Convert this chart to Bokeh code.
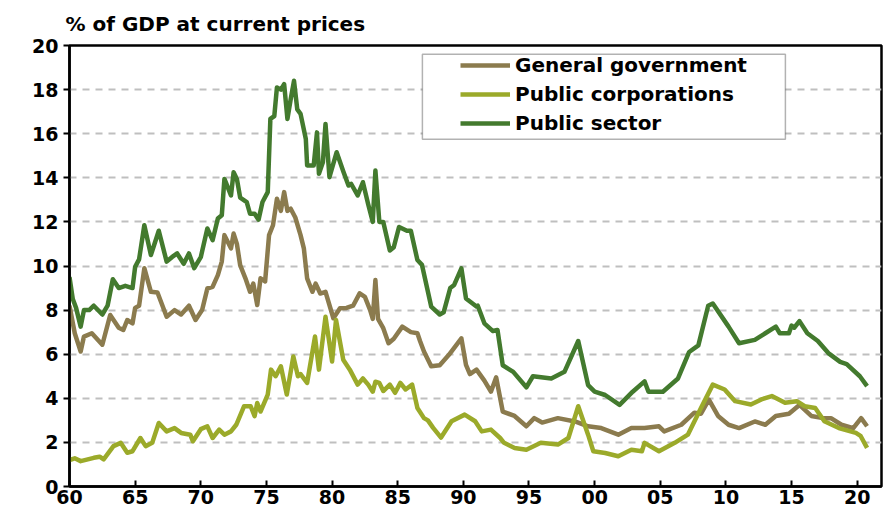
from bokeh.plotting import figure
from bokeh.models import (Range1d, FixedTicker, Legend, LegendItem, BoxAnnotation,
                          Title)
from bokeh.embed import file_html
from bokeh.resources import INLINE

# ---------------- data ----------------
gg_year = [1960.0, 1960.4, 1960.85, 1961.1, 1961.7, 1962.5, 1963.1, 1963.75, 1964.1, 1964.4,
           1964.8, 1965.0, 1965.3, 1965.7, 1966.2, 1966.7, 1967.4, 1968.0, 1968.5, 1969.1,
           1969.6, 1970.1, 1970.5, 1970.9, 1971.3, 1971.6, 1971.8, 1972.3, 1972.5, 1972.75,
           1973.0, 1973.4, 1973.75, 1974.0, 1974.3, 1974.55, 1974.9, 1975.2, 1975.5, 1975.8,
           1976.1, 1976.35, 1976.6, 1976.85, 1977.2, 1977.6, 1977.85, 1978.1, 1978.5, 1978.75,
           1979.1, 1979.5, 1980.1, 1980.6, 1981.1, 1981.6, 1982.1, 1982.5, 1982.9, 1983.1,
           1983.3, 1983.5, 1983.9, 1984.3, 1984.7, 1985.35, 1986.0, 1986.5, 1986.7, 1987.0,
           1987.55, 1988.2, 1988.9, 1989.85, 1990.2, 1990.5, 1991.0, 1991.6, 1992.1, 1992.5,
           1993.0, 1993.9, 1994.8, 1995.4, 1996.0, 1997.2, 1998.5, 1999.5, 2000.5, 2001.8,
           2002.8, 2003.8, 2004.9, 2005.3, 2006.6, 2007.6, 2008.1, 2008.7, 2009.4, 2010.2,
           2011.0, 2012.2, 2013.0, 2013.8, 2014.8, 2015.6, 2016.5, 2017.4, 2018.0, 2018.8,
           2019.7, 2020.3, 2020.75]
gg_val = [8.2, 6.95, 6.12, 6.8, 6.95, 6.43, 7.78, 7.2, 7.1, 7.55,
          7.4, 8.1, 8.2, 9.9, 8.83, 8.8, 7.7, 8.0, 7.8, 8.2,
          7.55, 8.0, 8.98, 9.05, 9.59, 10.2, 11.4, 10.8, 11.47, 11.0,
          10.04, 9.44, 8.83, 9.2, 8.23, 9.44, 9.3, 11.4, 11.85, 13.05,
          12.5, 13.35, 12.5, 12.6, 12.2, 11.4, 10.8, 9.44, 8.83, 9.2,
          8.75, 8.83, 7.63, 8.08, 8.1, 8.2, 8.76, 8.6, 8.0, 7.6,
          9.36, 7.6, 7.18, 6.5, 6.7, 7.25, 7.0, 6.95, 6.6, 6.12,
          5.45, 5.5, 5.97, 6.72, 5.52, 5.1, 5.3, 4.8, 4.3, 4.95,
          3.4, 3.2, 2.73, 3.1, 2.9, 3.1, 2.95, 2.73, 2.65, 2.35,
          2.65, 2.65, 2.73, 2.5, 2.8, 3.35, 3.3, 3.94, 3.2, 2.8,
          2.65, 2.95, 2.8, 3.2, 3.3, 3.7, 3.2, 3.1, 3.1, 2.8,
          2.65, 3.1, 2.73]

pc_year = [1960.0, 1960.4, 1960.85, 1961.85, 1962.3, 1962.6, 1963.35, 1963.9, 1964.4, 1964.8,
           1965.4, 1965.8, 1966.3, 1966.8, 1967.4, 1968.0, 1968.5, 1969.2, 1969.4, 1970.0,
           1970.5, 1970.9, 1971.4, 1971.8, 1972.3, 1972.7, 1973.3, 1973.8, 1974.1, 1974.3,
           1974.55, 1975.1, 1975.35, 1975.7, 1976.1, 1976.55, 1977.05, 1977.4, 1977.6, 1978.1,
           1978.7, 1979.0, 1979.5, 1980.0, 1980.3, 1980.85, 1981.35, 1981.95, 1982.35, 1982.75,
           1983.1, 1983.3, 1983.6, 1983.9, 1984.4, 1984.8, 1985.2, 1985.6, 1986.1, 1986.5,
           1987.0, 1987.3, 1987.7, 1988.3, 1989.1, 1990.1, 1990.9, 1991.4, 1992.1, 1992.8,
           1993.1, 1993.9, 1994.8, 1995.9, 1997.2, 1998.0, 1998.75, 1999.5, 1999.9, 2000.8,
           2001.8, 2002.8, 2003.6, 2003.8, 2004.9, 2006.1, 2007.1, 2008.1, 2009.0, 2009.9,
           2010.7, 2011.9, 2012.7, 2013.5, 2014.5, 2015.4, 2016.0, 2016.8, 2017.5, 2018.6,
           2019.9, 2020.25, 2020.75]
pc_val = [1.2, 1.28, 1.15, 1.3, 1.35, 1.23, 1.83, 1.98, 1.53, 1.6,
          2.2, 1.83, 1.98, 2.88, 2.5, 2.65, 2.43, 2.35, 2.05, 2.6,
          2.73, 2.2, 2.58, 2.35, 2.5, 2.8, 3.64, 3.64, 3.19, 3.79,
          3.4, 4.17, 5.3, 5.0, 5.45, 4.17, 5.9, 5.0, 5.1, 4.7,
          6.8, 5.3, 7.7, 5.67, 7.55, 5.75, 5.3, 4.62, 4.9, 4.62,
          4.3, 4.75, 4.7, 4.33, 4.62, 4.25, 4.7, 4.4, 4.62, 3.56,
          3.1, 3.0, 2.66, 2.22, 2.96, 3.26, 2.96, 2.5, 2.58, 2.2,
          1.98, 1.75, 1.67, 1.98, 1.9, 2.2, 3.64, 2.35, 1.6, 1.52,
          1.37, 1.67, 1.6, 1.98, 1.6, 1.98, 2.35, 3.56, 4.62, 4.4,
          3.87, 3.72, 3.95, 4.1, 3.8, 3.87, 3.64, 3.56, 2.96, 2.65,
          2.43, 2.3, 1.75]

ps_year = [1960.0, 1960.25, 1960.5, 1960.85, 1961.1, 1961.5, 1961.85, 1962.5, 1962.9, 1963.3,
           1963.75, 1964.25, 1964.8, 1965.0, 1965.3, 1965.7, 1966.2, 1966.8, 1967.4, 1967.8,
           1968.2, 1968.7, 1969.1, 1969.5, 1970.0, 1970.5, 1970.9, 1971.3, 1971.6, 1971.8,
           1972.3, 1972.5, 1972.75, 1973.0, 1973.5, 1973.75, 1974.1, 1974.4, 1974.7, 1975.1,
           1975.3, 1975.6, 1975.8, 1976.1, 1976.35, 1976.6, 1976.85, 1977.1, 1977.35, 1977.6,
           1978.0, 1978.1, 1978.6, 1978.85, 1979.0, 1979.3, 1979.5, 1979.8, 1980.35, 1980.85,
           1981.25, 1981.45, 1981.95, 1982.35, 1982.75, 1983.1, 1983.3, 1983.6, 1983.9, 1984.4,
           1984.7, 1985.1, 1985.7, 1986.0, 1986.5, 1986.85, 1987.55, 1988.2, 1988.5, 1989.0,
           1989.3, 1989.85, 1990.2, 1991.0, 1991.1, 1991.6, 1992.25, 1992.6, 1993.0, 1993.8,
           1994.8, 1995.3, 1996.7, 1997.7, 1998.75, 1999.5, 2000.0, 2000.8, 2001.9, 2002.9,
           2003.8, 2004.1, 2005.2, 2006.35, 2007.2, 2007.9, 2008.65, 2009.0, 2010.2, 2011.0,
           2012.2, 2013.0, 2013.8, 2014.1, 2014.8, 2015.0, 2015.2, 2015.6, 2016.2, 2017.0,
           2017.8, 2018.7, 2019.2, 2020.2, 2020.75]
ps_val = [9.5, 8.5, 8.1, 7.25, 8.0, 8.0, 8.2, 7.8, 8.2, 9.4,
          9.0, 9.1, 9.0, 9.96, 10.3, 11.85, 10.5, 11.6, 10.2, 10.4,
          10.57, 10.1, 10.57, 9.9, 10.4, 11.7, 11.17, 12.15, 12.3, 13.95,
          13.2, 14.25, 13.95, 13.1, 12.9, 12.37, 12.37, 12.1, 12.9, 13.35,
          16.67, 16.8, 18.1, 18.0, 18.25, 16.67, 17.57, 18.4, 17.1, 16.9,
          15.76, 14.56, 14.56, 16.06, 14.18, 14.7, 16.44, 14.03, 15.16, 14.3,
          13.65, 13.73, 13.2, 13.8, 12.8, 12.0, 14.33, 12.0, 12.0, 10.7,
          10.85, 11.77, 11.6, 11.6, 10.27, 10.05, 8.16, 7.8, 7.9, 9.0,
          9.14, 9.89, 8.53, 8.16, 8.2, 7.4, 7.05, 7.1, 5.5, 5.2,
          4.5, 5.0, 4.9, 5.2, 6.6, 4.6, 4.3, 4.15, 3.7, 4.3,
          4.77, 4.3, 4.3, 4.9, 6.1, 6.4, 8.2, 8.3, 7.25, 6.5,
          6.65, 6.95, 7.25, 6.95, 6.95, 7.3, 7.2, 7.5, 6.95, 6.6,
          6.05, 5.65, 5.55, 5.0, 4.55]

series_names = ["General government", "Public corporations", "Public sector"]
x_ticks = [1960, 1965, 1970, 1975, 1980, 1985, 1990, 1995, 2000, 2005, 2010, 2015, 2020]
x_tick_labels = ["60", "65", "70", "75", "80", "85", "90", "95", "00", "05", "10", "15", "20"]
y_ticks = [0, 2, 4, 6, 8, 10, 12, 14, 16, 18, 20]

C_GG = "#8B7B4E"
C_PC = "#9BAA2A"
C_PS = "#437A2E"
FONT = "DejaVu Sans"

p = figure(width=889, height=524, output_backend="svg", toolbar_location=None,
           x_range=Range1d(1960, 2021.85), y_range=Range1d(0, 20),
           min_border_left=69, min_border_right=8, min_border_top=43, min_border_bottom=38)
p.background_fill_color = "white"
p.border_fill_color = "white"
p.outline_line_color = "black"
p.outline_line_width = 2.5

p.add_layout(Title(text="% of GDP at current prices", text_font=FONT, text_font_size="20px",
                   text_font_style="bold", text_color="black", offset=-4, standoff=19), "above")

# grid
p.xgrid.grid_line_color = None
p.ygrid.ticker = FixedTicker(ticks=y_ticks[1:-1])
p.ygrid.grid_line_color = "#BFBFBF"
p.ygrid.grid_line_width = 2
p.ygrid.grid_line_dash = "7 6"

# axes
p.xaxis.ticker = FixedTicker(ticks=x_ticks)
p.xaxis.major_label_overrides = {t: l for t, l in zip(x_ticks, x_tick_labels)}
p.yaxis.ticker = FixedTicker(ticks=y_ticks)
for ax in (p.xaxis[0], p.yaxis[0]):
    ax.axis_line_color = "black"
    ax.axis_line_width = 2.5
    ax.major_tick_line_color = "black"
    ax.major_tick_line_width = 2
    ax.minor_tick_line_color = None
    ax.major_label_text_font = FONT
    ax.major_label_text_font_size = "19px"
    ax.major_label_text_font_style = "bold"
    ax.major_label_text_color = "black"
p.xaxis.major_tick_in = 6
p.xaxis.major_tick_out = 0
p.xaxis.major_label_standoff = 3
p.yaxis.major_tick_in = 0
p.yaxis.major_tick_out = 6
p.yaxis.major_label_standoff = 5

r_gg = p.line(gg_year, gg_val, line_color=C_GG, line_width=4.5, line_join="round")
r_pc = p.line(pc_year, pc_val, line_color=C_PC, line_width=4.5, line_join="round")
r_ps = p.line(ps_year, ps_val, line_color=C_PS, line_width=4.5, line_join="round")

# legend frame (white box covering the grid)
box = BoxAnnotation(left=1986.88, right=2014.53, bottom=15.75, top=19.6,
                    fill_color="white", fill_alpha=1.0, line_color="black", line_width=1.5)
p.add_layout(box)

legend = Legend(items=[LegendItem(label=n, renderers=[r]) for n, r in
                       zip(series_names, [r_gg, r_pc, r_ps])],
                location=(391, 350), orientation="vertical",
                border_line_alpha=0, background_fill_alpha=0,
                padding=0, margin=0, spacing=3, glyph_width=50, glyph_height=20,
                label_height=26, label_standoff=5,
                label_text_font=FONT, label_text_font_size="20px",
                label_text_font_style="bold", label_text_color="black")
p.add_layout(legend, "center")

open("out.html", "w").write(file_html(p, INLINE))
